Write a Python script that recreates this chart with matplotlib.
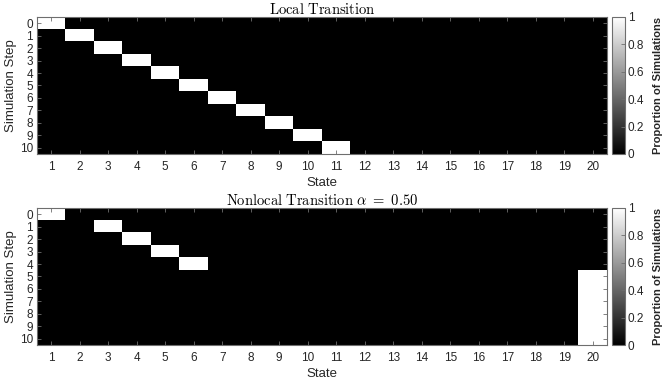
import matplotlib
matplotlib.use('Agg')
import matplotlib.pyplot as plt
import numpy as np

plt.rcParams['font.family'] = ['Liberation Sans', 'DejaVu Sans']
plt.rcParams['mathtext.fontset'] = 'cm'

# data: state occupied (proportion 1.0) at each simulation step
steps = list(range(0, 11))
states = list(range(1, 21))
local_state = [1, 2, 3, 4, 5, 6, 7, 8, 9, 10, 11]
nonlocal_state = [1, 3, 4, 5, 6, 20, 20, 20, 20, 20, 20]
proportion = [1.0] * 11
cbar_ticks = [0, 0.2, 0.4, 0.6, 0.8, 1]
cbar_labels = ['0', '0.2', '0.4', '0.6', '0.8', '1']

titles = [r'$\mathrm{Local\ Transition}$',
          r'$\mathrm{Nonlocal\ Transition}\ \alpha\ =\ 0.50$']

edge = '#6e6e6e'
txt = '#262626'


def build(occ):
    m = np.zeros((len(steps), len(states)))
    for i, s in enumerate(occ):
        m[i, states.index(s)] = proportion[i]
    return m


fig = plt.figure(figsize=(6.64, 3.79), dpi=100)
ax_pos = [[0.0557, 0.5937, 0.8584, 0.3615], [0.0557, 0.0897, 0.8584, 0.3615]]
cb_pos = [[0.9217, 0.5937, 0.0196, 0.3615], [0.9217, 0.0897, 0.0196, 0.3615]]

for k, occ in enumerate([local_state, nonlocal_state]):
    ax = fig.add_axes(ax_pos[k])
    im = ax.imshow(build(occ), cmap='gray', vmin=0, vmax=1, aspect='auto',
                   interpolation='nearest',
                   extent=[states[0] - 0.5, states[-1] + 0.5, steps[-1] + 0.5, steps[0] - 0.5])
    ax.set_xticks(states)
    ax.set_yticks(steps)
    ax.tick_params(direction='in', length=3, width=0.6, color=edge, labelsize=8.5,
                   labelcolor=txt, top=True, right=True)
    ax.tick_params(axis='x', pad=5)
    ax.tick_params(axis='y', pad=3)
    for sp in ax.spines.values():
        sp.set_color(edge)
        sp.set_linewidth(0.8)
    ax.set_xlabel('State', fontsize=9.5, labelpad=3, color=txt)
    ax.set_ylabel('Simulation Step', fontsize=9.5, labelpad=2, color=txt)
    ax.set_title(titles[k], fontsize=10.5, pad=2)

    cax = fig.add_axes(cb_pos[k])
    cb = fig.colorbar(im, cax=cax, ticks=cbar_ticks)
    cb.ax.set_yticklabels(cbar_labels)
    cb.ax.tick_params(direction='in', length=3, width=0.6, color=edge, labelsize=8.5,
                      labelcolor=txt, pad=2)
    cb.outline.set_edgecolor(edge)
    cb.outline.set_linewidth(0.8)
    cb.set_label('Proportion of Simulations', fontsize=8, fontweight='bold', labelpad=6,
                 color=txt)

plt.savefig('out.png', dpi=100)
plt.close()
